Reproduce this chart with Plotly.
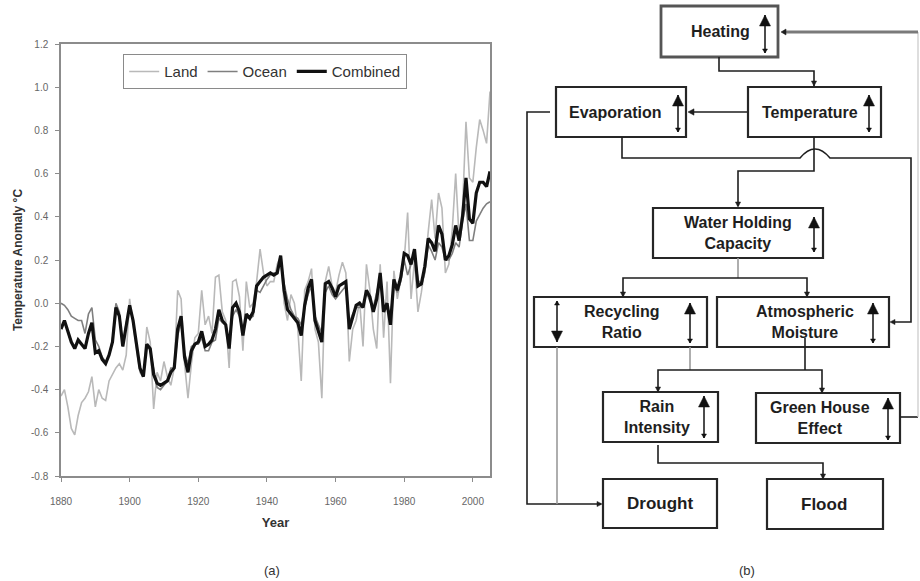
import plotly.graph_objects as go

# ---- (a) global temperature anomalies, annual values ----
years = list(range(1880, 2006))

combined = [
    -0.12, -0.08, -0.13, -0.18, -0.21, -0.17, -0.19, -0.21, -0.14, -0.09,
    -0.23, -0.22, -0.26, -0.28, -0.24, -0.18, -0.02, -0.06, -0.20, -0.10,
    -0.01, -0.08, -0.20, -0.30, -0.34, -0.19, -0.21, -0.33, -0.37, -0.38,
    -0.37, -0.36, -0.32, -0.30, -0.12, -0.06, -0.25, -0.32, -0.22, -0.19,
    -0.18, -0.13, -0.20, -0.19, -0.17, -0.12, -0.03, -0.08, -0.10, -0.21,
    -0.02, 0.00, -0.04, -0.15, -0.05, -0.07, -0.04, 0.08, 0.10, 0.12,
    0.13, 0.14, 0.13, 0.14, 0.22, 0.06, -0.03, -0.05, -0.07, -0.09,
    -0.15, -0.01, 0.07, 0.11, -0.08, -0.13, -0.18, 0.09, 0.10, 0.07,
    0.03, 0.08, 0.09, 0.10, -0.12, -0.06, -0.01, 0.00, -0.02, 0.06,
    0.03, -0.04, 0.02, 0.14, -0.04, 0.00, -0.10, 0.11, 0.06, 0.12,
    0.23, 0.22, 0.18, 0.25, 0.08, 0.09, 0.17, 0.30, 0.28, 0.24,
    0.36, 0.32, 0.20, 0.22, 0.27, 0.36, 0.29, 0.40, 0.58, 0.39,
    0.37, 0.51, 0.56, 0.56, 0.54, 0.61,
]

ocean = [
    0.00, -0.01, -0.03, -0.06, -0.07, -0.08, -0.08, -0.14, -0.05, -0.02,
    -0.17, -0.20, -0.25, -0.27, -0.24, -0.17, 0.00, -0.04, -0.20, -0.09,
    -0.02, -0.08, -0.19, -0.30, -0.34, -0.19, -0.22, -0.30, -0.39, -0.40,
    -0.38, -0.36, -0.30, -0.30, -0.15, -0.09, -0.23, -0.28, -0.20, -0.19,
    -0.19, -0.16, -0.22, -0.22, -0.18, -0.17, -0.07, -0.09, -0.10, -0.18,
    -0.06, -0.03, -0.06, -0.14, -0.07, -0.07, -0.06, 0.06, 0.05, 0.08,
    0.11, 0.13, 0.14, 0.14, 0.21, 0.09, 0.02, -0.03, -0.06, -0.07,
    -0.10, -0.02, 0.04, 0.08, -0.06, -0.10, -0.14, 0.05, 0.08, 0.04,
    0.02, 0.04, 0.06, 0.08, -0.09, -0.05, -0.02, -0.02, -0.01, 0.05,
    0.01, -0.02, 0.05, 0.12, -0.02, -0.01, -0.06, 0.09, 0.05, 0.10,
    0.20, 0.13, 0.18, 0.24, 0.11, 0.08, 0.14, 0.27, 0.24, 0.20,
    0.28, 0.26, 0.20, 0.20, 0.23, 0.28, 0.26, 0.38, 0.46, 0.29,
    0.29, 0.38, 0.41, 0.44, 0.46, 0.47,
]

land = [
    -0.43, -0.40, -0.48, -0.58, -0.61, -0.52, -0.46, -0.44, -0.41, -0.34,
    -0.48, -0.40, -0.44, -0.45, -0.36, -0.33, -0.30, -0.28, -0.31, -0.24,
    0.02, -0.10, -0.22, -0.32, -0.34, -0.11, -0.18, -0.49, -0.32, -0.36,
    -0.27, -0.34, -0.38, -0.30, 0.06, 0.02, -0.28, -0.44, -0.28, -0.16,
    -0.14, 0.06, -0.10, -0.06, -0.14, 0.12, 0.13, -0.04, -0.08, -0.30,
    0.10, 0.11, 0.03, -0.22, 0.10, -0.02, 0.00, 0.10, 0.25, 0.14,
    0.08, 0.10, 0.10, 0.18, 0.22, 0.00, -0.08, 0.04, 0.00, -0.12,
    -0.36, 0.06, 0.10, 0.16, -0.12, -0.18, -0.44, 0.10, 0.17, 0.08,
    0.05, 0.13, 0.19, 0.14, -0.27, -0.12, -0.08, 0.01, -0.20, 0.18,
    0.06, -0.12, -0.21, 0.18, -0.16, 0.10, -0.37, 0.15, 0.02, 0.11,
    0.20, 0.42, 0.02, 0.20, -0.04, 0.05, 0.16, 0.33, 0.48, 0.30,
    0.51, 0.44, 0.14, 0.18, 0.34, 0.60, 0.30, 0.44, 0.84, 0.58,
    0.56, 0.72, 0.85, 0.80, 0.74, 0.98,
]

x_ticks = [1880, 1900, 1920, 1940, 1960, 1980, 2000]
y_ticks = [-0.8, -0.6, -0.4, -0.2, 0.0, 0.2, 0.4, 0.6, 0.8, 1.0, 1.2]
y_tick_labels = ["-0.8", "-0.6", "-0.4", "-0.2", "0.0", "0.2", "0.4", "0.6", "0.8", "1.0", "1.2"]

W, H = 920, 581
FONT = "Arial, Liberation Sans, Helvetica, sans-serif"
INK = "#1e1e1e"
GREY_LINE = "#9a9a9a"

fig = go.Figure()
fig.add_trace(go.Scatter(x=years, y=land, name="Land", mode="lines",
                         line=dict(color="#b9b9b9", width=1.6)))
fig.add_trace(go.Scatter(x=years, y=ocean, name="Ocean", mode="lines",
                         line=dict(color="#7f7f7f", width=1.6)))
fig.add_trace(go.Scatter(x=years, y=combined, name="Combined", mode="lines",
                         line=dict(color="#111111", width=3.2)))
# empty trace that anchors the pixel-space axes used for the flow diagram
fig.add_trace(go.Scatter(x=[], y=[], xaxis="x2", yaxis="y2", showlegend=False,
                         hoverinfo="skip"))

shapes = []
annotations = []


def poly(pts, color=INK, width=1.6):
    d = "M" + " L".join(f"{x},{y}" for x, y in pts)
    shapes.append(dict(type="path", path=d, xref="x2", yref="y2",
                       line=dict(color=color, width=width)))


def head(tip, direction, length=6, half=3.2, color=INK):
    x, y = tip
    dx, dy = direction
    bx, by = x - dx * length, y - dy * length
    px, py = -dy, dx
    d = (f"M{x},{y} L{bx + px * half},{by + py * half} "
         f"L{bx - px * half},{by - py * half} Z")
    shapes.append(dict(type="path", path=d, xref="x2", yref="y2",
                       fillcolor=color, line=dict(color=color, width=0.5)))


def box(x0, y0, x1, y1, lines, cx=None, size=16, width=2.2, color="#262626"):
    shapes.append(dict(type="rect", x0=x0, y0=y0, x1=x1, y1=y1, xref="x2", yref="y2",
                       line=dict(color=color, width=width)))
    annotations.append(dict(x=cx if cx is not None else (x0 + x1) / 2, y=(y0 + y1) / 2,
                            xref="x2", yref="y2", text="<br>".join(lines), showarrow=False,
                            font=dict(family=FONT, size=size, color=INK),
                            xanchor="center", yanchor="middle"))


def updown(x, y_top, y_bot, up=True):
    """Indicator arrow inside a box: big head shows the direction of change."""
    poly([(x, y_bot), (x, y_top)], color="#111111", width=1.5)
    if up:
        head((x, y_top), (0, -1), length=11, half=5.5, color="#111111")
        head((x, y_bot), (0, 1), length=4, half=2.5, color="#111111")
    else:
        head((x, y_bot), (0, 1), length=11, half=5.5, color="#111111")
        head((x, y_top), (0, -1), length=4, half=2.5, color="#111111")


# ---- (b) boxes ----
box(661, 6, 778, 57, ["<b>Heating</b>"], cx=720, width=2.8, color="#555555")
box(748, 87, 881, 137, ["<b>Temperature</b>"], cx=810)
box(556, 87, 686, 137, ["<b>Evaporation</b>"], cx=615)
box(653, 208, 823, 258, ["<b>Water Holding</b>", "<b>Capacity</b>"], cx=738)
box(534, 297, 707, 347, ["<b>Recycling</b>", "<b>Ratio</b>"], cx=622)
box(717, 297, 889, 347, ["<b>Atmospheric</b>", "<b>Moisture</b>"], cx=805)
box(603, 392, 718, 442, ["<b>Rain</b>", "<b>Intensity</b>"], cx=657)
box(756, 393, 900, 443, ["<b>Green House</b>", "<b>Effect</b>"], cx=820)
box(603, 479, 717, 528, ["<b>Drought</b>"], cx=660, size=17)
box(767, 479, 883, 529, ["<b>Flood</b>"], cx=824, size=17)

# direction-of-change indicators
updown(765, 15, 53)
updown(869, 95, 132)
updown(678, 95, 132)
updown(814, 217, 252)
updown(557, 301, 342, up=False)
updown(690, 303, 343)
updown(873, 303, 343)
updown(704, 396, 438)
updown(888, 398, 440)

# ---- (b) connectors ----
# Heating -> Temperature
poly([(719, 57), (719, 71), (814, 71), (814, 86)])
head((814, 86), (0, 1), length=5, half=2.6)
# Temperature -> Evaporation
poly([(747, 112), (690, 112)])
head((688, 112), (-1, 0))
# Evaporation -> Drought (outer left loop)
poly([(550, 112), (527, 112), (527, 504), (601, 504)])
head((602, 504), (1, 0), length=5, half=2.6)
# Evaporation -> Atmospheric Moisture, hopping over the Temperature branch
shapes.append(dict(type="path", xref="x2", yref="y2",
                   path="M622,137 L622,158 L800,158 Q815,140 830,158 L911,158 L911,322 L893,322",
                   line=dict(color=INK, width=1.6)))
head((890, 322), (-1, 0), length=5, half=2.6)
# Temperature -> Water Holding Capacity
poly([(814, 137), (814, 171), (738, 171), (738, 206)])
head((738, 207), (0, 1), length=5, half=2.6)
# Water Holding Capacity -> Recycling Ratio / Atmospheric Moisture
poly([(738, 258), (738, 278)], color=GREY_LINE)
poly([(623, 296), (623, 278), (807, 278), (807, 296)])
head((623, 297), (0, 1), length=5, half=2.6)
head((807, 297), (0, 1), length=5, half=2.6)
# Recycling Ratio -> Drought and -> Rain Intensity
poly([(557, 347), (557, 504)], color=GREY_LINE)
poly([(690, 347), (690, 370)], color=GREY_LINE)
# Atmospheric Moisture -> Rain Intensity / Green House Effect
poly([(805, 338), (805, 370)])
poly([(658, 391), (658, 370), (822, 370), (822, 392)])
head((658, 392), (0, 1), length=5, half=2.6)
head((822, 393), (0, 1), length=5, half=2.6)
# Rain Intensity -> Flood
poly([(658, 445), (658, 463), (823, 463), (823, 478)])
head((823, 479), (0, 1), length=5, half=2.6)
# Green House Effect -> Heating feedback
poly([(900, 417), (918, 417)])
poly([(918, 417), (918, 32)], color="#d0d0d0", width=1.4)
poly([(918, 32), (784, 32)], color="#7a7a7a", width=3)
head((781, 32), (-1, 0), length=5, half=3)

# ---- captions ----
for txt, cx in (("(a)", 272), ("(b)", 747)):
    annotations.append(dict(x=cx, y=570, xref="x2", yref="y2", text=txt, showarrow=False,
                            font=dict(family=FONT, size=13, color="#333333"),
                            xanchor="center", yanchor="middle"))

x_dom = [61 / W, 490 / W]
y_dom = [1 - 476 / H, 1 - 44 / H]

fig.update_layout(
    width=W, height=H,
    margin=dict(l=0, r=0, t=0, b=0, autoexpand=False),
    paper_bgcolor="white",
    plot_bgcolor="rgba(0,0,0,0)",
    font=dict(family=FONT, color="#333333"),
    showlegend=True,
    legend=dict(orientation="h", x=123 / W, y=1 - 54 / H, xanchor="left", yanchor="top",
                bordercolor="#8a8a8a", borderwidth=1.2, bgcolor="white",
                font=dict(family=FONT, size=15, color="#333333"),
                itemwidth=30, tracegroupgap=0),
    xaxis=dict(domain=x_dom, range=[1880, 2005], tickvals=x_ticks, automargin=False,
               showgrid=False, zeroline=False, showline=True, linecolor="#8c8c8c",
               linewidth=1.5, mirror=True, ticks="outside", ticklen=4, tickcolor="#8c8c8c",
               ticklabelstandoff=11,
               tickfont=dict(family=FONT, size=10, color="#666666"),
               title=dict(text="<b>Year</b>", standoff=12,
                          font=dict(family=FONT, size=13, color="#333333")),
               anchor="y"),
    yaxis=dict(domain=y_dom, range=[-0.8, 1.2], tickvals=y_ticks, ticktext=y_tick_labels,
               automargin=False,
               showgrid=False, zeroline=False, showline=True, linecolor="#8c8c8c",
               linewidth=1.5, mirror=True, ticks="outside", ticklen=4, tickcolor="#8c8c8c",
               ticklabelstandoff=5,
               tickfont=dict(family=FONT, size=10, color="#666666"),
               title=dict(text="<b>Temperature Anomaly °C</b>", standoff=6,
                          font=dict(family=FONT, size=12, color="#333333")),
               anchor="x"),
    xaxis2=dict(domain=[0, 1], range=[0, W], visible=False, anchor="y2", fixedrange=True),
    yaxis2=dict(domain=[0, 1], range=[H, 0], visible=False, anchor="x2", fixedrange=True),
    shapes=shapes,
    annotations=annotations,
)

fig.write_html("out.html")
